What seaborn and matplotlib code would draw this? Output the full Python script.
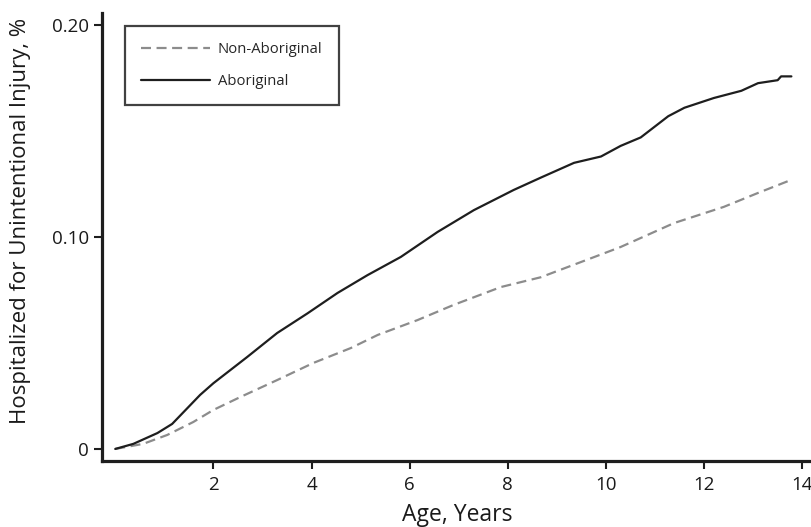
import pandas as pd
import seaborn as sns
import matplotlib.pyplot as plt

# values (age in years, cumulative %)
age_abor = [0.0, 0.37, 0.86, 1.16, 1.73, 2.0, 2.69, 3.3, 3.92, 4.53, 5.14, 5.82, 6.57,
            7.31, 8.12, 8.67, 9.35, 9.9, 10.3, 10.71, 11.27, 11.6, 12.2, 12.76, 13.1,
            13.5, 13.57, 13.78]
pct_abor = [0.0, 0.0024, 0.0075, 0.0118, 0.0255, 0.031, 0.0434, 0.0547, 0.064, 0.0736,
            0.082, 0.0906, 0.1024, 0.1127, 0.1222, 0.128, 0.135, 0.138, 0.143, 0.147,
            0.157, 0.161, 0.1656, 0.169, 0.1726, 0.174, 0.1758, 0.1758]
age_non = [0.0, 0.57, 1.06, 1.59, 2.0, 2.55, 3.3, 4.04, 4.8, 5.35, 6.16, 6.9, 7.86,
           8.67, 10.04, 10.3, 11.39, 12.4, 13.1, 13.78]
pct_non = [0.0, 0.0024, 0.0066, 0.0127, 0.0184, 0.0245, 0.0325, 0.0406, 0.0476, 0.0538,
           0.0608, 0.068, 0.0764, 0.081, 0.093, 0.0953, 0.1066, 0.1142, 0.1208, 0.127]

non = pd.DataFrame({'age': age_non, 'pct': pct_non})
abor = pd.DataFrame({'age': age_abor, 'pct': pct_abor})

sns.set_style("ticks")
plt.rcParams['font.family'] = ['Open Sans', 'DejaVu Sans']

fig = plt.figure(figsize=(8.12, 5.27), dpi=100)
ax = fig.add_axes([0.1256, 0.1252, 0.8744, 0.8501])

sns.lineplot(data=non, x='age', y='pct', ax=ax, color='#8c8c8c', lw=1.6,
             label='Non-Aboriginal')
ax.lines[-1].set_linestyle((0, (4.5, 2.5)))
sns.lineplot(data=abor, x='age', y='pct', ax=ax, color='#1e1e1e', lw=1.6,
             label='Aboriginal')

ax.set_xlim(-0.27, 14.2)
ax.set_ylim(-0.0057, 0.2057)
ax.set_xticks([2, 4, 6, 8, 10, 12, 14])
ax.set_yticks([0, 0.10, 0.20])
ax.set_yticklabels(['0', '0.10', '0.20'])
ax.tick_params(labelsize=13.5, width=1.5, length=6, color='#1e1e1e', labelcolor='#1a1a1a')
ax.tick_params(axis='x', pad=5)

sns.despine(ax=ax)
for s in ['left', 'bottom']:
    ax.spines[s].set_linewidth(2.3)
    ax.spines[s].set_color('#1e1e1e')

ax.set_xlabel('Age, Years', fontsize=16.5, color='#1a1a1a')
ax.set_ylabel('Hospitalized for Unintentional Injury, %', fontsize=16,
              color='#1a1a1a')
ax.xaxis.set_label_coords(0.501, -0.094)
ax.yaxis.set_label_coords(-0.1, 0.536)

leg = ax.legend(loc='upper left', bbox_to_anchor=(0.0324, 0.971), fontsize=10.7,
                frameon=True, fancybox=False, handlelength=4.6, borderpad=1.1,
                labelspacing=1.1, handletextpad=0.55, borderaxespad=0)
leg.get_frame().set_edgecolor('#111111')
leg.get_frame().set_linewidth(1.6)

plt.savefig("out.png", dpi=100)
